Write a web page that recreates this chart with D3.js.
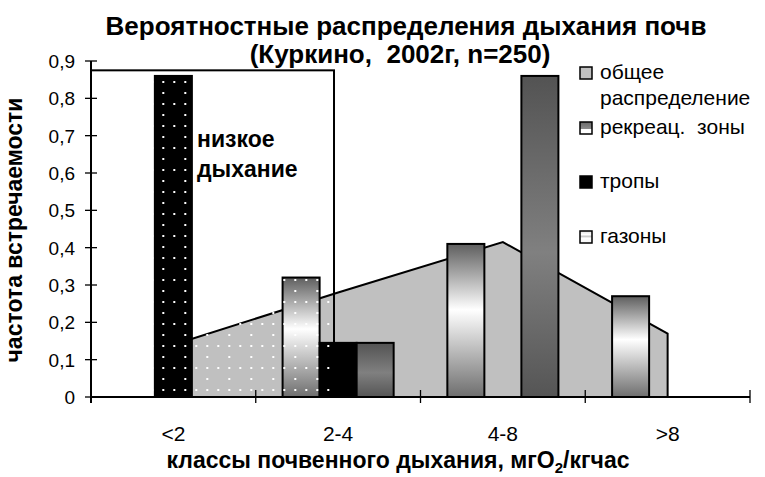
<!DOCTYPE html>
<html>
<head>
<meta charset="utf-8">
<script src="https://cdn.jsdelivr.net/npm/d3@7/dist/d3.min.js"></script>
<style>
  html, body { margin: 0; padding: 0; background: #fff; }
  svg { display: block; font-family: "Liberation Sans", Arial, sans-serif; }
  .pre { white-space: pre; }
</style>
</head>
<body>
<svg id="chart" width="765" height="477"></svg>
<script>
// Soil respiration classes, mgO2/kg·h
const categories = ["<2", "2-4", "4-8", ">8"];
// Frequencies per class
const overall    = [0.14, 0.28, 0.415, 0.17];   // общее распределение (area)
const recreation = [0, 0.32, 0.41, 0.27];       // рекреац. зоны
const paths      = [0.86, 0.145, 0, 0];         // тропы
const lawns      = [0, 0.145, 0.86, 0];         // газоны
const yTicks = [0, 0.1, 0.2, 0.3, 0.4, 0.5, 0.6, 0.7, 0.8, 0.9];
const legendNames = ["общее", "распределение", "рекреац.  зоны", "тропы", "газоны"];

const svg = d3.select("#chart");
const defs = svg.append("defs");

const x = d3.scaleBand().domain(categories).range([91, 750]).padding(0);
const y = d3.scaleLinear().domain([0, 0.9]).range([397, 61]);

// column cluster: three series, gap of ~1.45 bar widths
const barW = x.bandwidth() / 4.45;
const gapHalf = (x.bandwidth() - 3 * barW) / 2;

// fills
function vGrad(id, stops) {
  const g = defs.append("linearGradient").attr("id", id)
    .attr("x1", 0).attr("y1", 0).attr("x2", 0).attr("y2", 1);
  stops.forEach(([o, c]) => g.append("stop").attr("offset", o).attr("stop-color", c));
}
vGrad("gRec", [[0, "#5e5e5e"], [0.43, "#ffffff"], [1, "#6e6e6e"]]);
vGrad("gLawn", [[0, "#535353"], [0.55, "#808080"], [1, "#555555"]]);
vGrad("gRecIcon", [[0, "#6a6a6a"], [0.55, "#8a8a8a"], [0.6, "#ffffff"], [1, "#ffffff"]]);
vGrad("gLawnIcon", [[0, "#e0e0e0"], [0.3, "#ffffff"], [0.45, "#c8c8c8"], [0.6, "#ffffff"], [1, "#f4f4f4"]]);

const dots = defs.append("pattern").attr("id", "dots")
  .attr("patternUnits", "userSpaceOnUse")
  .attr("x", 162.3).attr("y", 389).attr("width", 22).attr("height", 22);
[[0, 0], [11, 0], [0, 11]].forEach(([dx, dy]) =>
  dots.append("rect").attr("x", dx).attr("y", dy).attr("width", 2).attr("height", 2).attr("fill", "#fff"));

// overall distribution as an area through class centres
const centre = c => x(c) + x.bandwidth() / 2;
const area = d3.area()
  .x((d, i) => centre(categories[i]))
  .y0(y(0))
  .y1(d => y(d));
svg.append("path").datum(overall)
  .attr("d", area)
  .attr("fill", "#c0c0c0")
  .attr("stroke", "#000")
  .attr("stroke-width", 2)
  .attr("stroke-linejoin", "miter");

// columns
const series = [
  { values: recreation, fill: "url(#gRec)" },
  { values: paths, fill: "#000" },
  { values: lawns, fill: "url(#gLawn)" }
];
series.forEach((s, si) => {
  svg.append("g").selectAll("rect")
    .data(s.values.map((v, i) => ({ v, c: categories[i] })).filter(d => d.v > 0))
    .join("rect")
    .attr("x", d => x(d.c) + gapHalf + si * barW)
    .attr("y", d => y(d.v))
    .attr("width", barW)
    .attr("height", d => y(0) - y(d.v))
    .attr("fill", s.fill)
    .attr("stroke", "#000")
    .attr("stroke-width", 2);
});

// "low respiration" frame with dotted fill
const boxRight = x("2-4") + x.bandwidth() * 0.475;
svg.append("rect")
  .attr("x", x.range()[0]).attr("y", y(0.875))
  .attr("width", boxRight - x.range()[0])
  .attr("height", y(0) - y(0.875))
  .attr("fill", "url(#dots)")
  .attr("stroke", "#000")
  .attr("stroke-width", 2);

svg.append("text").attr("x", 197).attr("y", 147)
  .attr("font-size", 23).attr("font-weight", "bold").text("низкое");
svg.append("text").attr("x", 197).attr("y", 177)
  .attr("font-size", 23).attr("font-weight", "bold").text("дыхание");

// y axis
const yAxis = svg.append("g");
yAxis.append("line")
  .attr("x1", x.range()[0]).attr("x2", x.range()[0])
  .attr("y1", y(0.9)).attr("y2", y(0) + 6)
  .attr("stroke", "#000").attr("stroke-width", 2);
yAxis.selectAll(".tk").data(yTicks).join("line")
  .attr("x1", x.range()[0] - 6).attr("x2", x.range()[0] + 6)
  .attr("y1", d => y(d)).attr("y2", d => y(d))
  .attr("stroke", "#000").attr("stroke-width", 1.3);
yAxis.selectAll("text").data(yTicks).join("text")
  .attr("x", 75).attr("y", d => y(d)).attr("dy", "0.36em")
  .attr("text-anchor", "end").attr("font-size", 19)
  .text(d => d === 0 ? "0" : d3.format(".1f")(d).replace(".", ","));

// x axis
const xAxis = svg.append("g");
xAxis.append("line")
  .attr("x1", x.range()[0]).attr("x2", x.range()[1])
  .attr("y1", y(0)).attr("y2", y(0))
  .attr("stroke", "#000").attr("stroke-width", 2);
const bounds = categories.map(c => x(c)).concat([x.range()[1]]).slice(1);
xAxis.selectAll(".tk").data(bounds).join("line")
  .attr("x1", d => d).attr("x2", d => d)
  .attr("y1", y(0) - 7).attr("y2", y(0) + 6)
  .attr("stroke", "#000").attr("stroke-width", 1.3);
xAxis.selectAll("text").data(categories).join("text")
  .attr("x", d => centre(d)).attr("y", 441)
  .attr("text-anchor", "middle").attr("font-size", 21)
  .text(d => d);

// titles
svg.append("text").attr("x", 406).attr("y", 35)
  .attr("text-anchor", "middle").attr("font-size", 26).attr("font-weight", "bold")
  .text("Вероятностные распределения дыхания почв");
svg.append("text").attr("class", "pre").attr("x", 400).attr("y", 63)
  .attr("text-anchor", "middle").attr("font-size", 26).attr("font-weight", "bold")
  .text("(Куркино,  2002г, n=250)");

const xt = svg.append("text").attr("x", 398).attr("y", 468)
  .attr("text-anchor", "middle").attr("font-size", 23).attr("font-weight", "bold");
xt.append("tspan").text("классы почвенного дыхания, мгО");
xt.append("tspan").attr("font-size", 15).attr("dy", 5).text("2");
xt.append("tspan").attr("dy", -5).text("/кгчас");

svg.append("text")
  .attr("transform", "translate(22,230) rotate(-90)")
  .attr("text-anchor", "middle").attr("font-size", 23).attr("font-weight", "bold")
  .text("частота встречаемости");

// legend
const lg = svg.append("g").attr("font-size", 21);
const legendItems = [
  { fill: "#c0c0c0", base: 79, label: [legendNames[0], legendNames[1]] },
  { fill: "url(#gRecIcon)", base: 134, label: [legendNames[2]] },
  { fill: "#000", base: 188, label: [legendNames[3]] },
  { fill: "url(#gLawnIcon)", base: 243, label: [legendNames[4]] }
];
legendItems.forEach(it => {
  lg.append("rect").attr("x", 580).attr("y", it.base - 12)
    .attr("width", 12).attr("height", 12)
    .attr("fill", it.fill).attr("stroke", "#000").attr("stroke-width", 1.5);
  it.label.forEach((t, i) =>
    lg.append("text").attr("class", "pre").attr("x", 600).attr("y", it.base + i * 26).text(t));
});
</script>
</body>
</html>
